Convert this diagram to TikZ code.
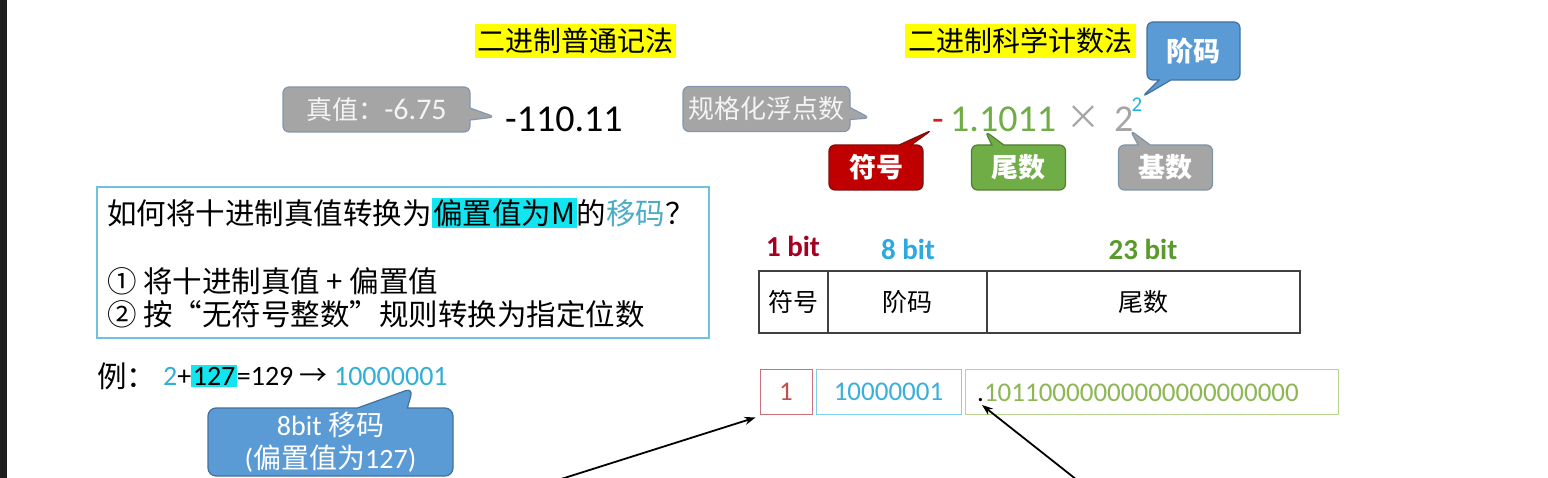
\documentclass[tikz,border=0pt]{standalone}
\usepackage{fontspec}
\setmainfont{Carlito}
\newfontfamily\cjk{Noto Sans CJK SC}
\usetikzlibrary{shapes.callouts,arrows.meta}

\newcommand{\fsz}[1]{\fontsize{#1}{#1}\selectfont}
\setlength{\fboxsep}{1.5pt}

\definecolor{sidebar}{HTML}{1E1E1E}
\definecolor{hlyellow}{HTML}{FFFF00}
\definecolor{hlcyan}{HTML}{12E4F0}
\definecolor{calgray}{HTML}{A5A5A5}
\definecolor{calline}{HTML}{8497B0}
\definecolor{calwhite}{HTML}{F4F4F4}
\definecolor{tagred}{HTML}{C00000}
\definecolor{tagredline}{HTML}{7F1010}
\definecolor{taggreen}{HTML}{70AD47}
\definecolor{taggreenline}{HTML}{507E32}
\definecolor{taggray}{HTML}{A5A5A5}
\definecolor{taggrayline}{HTML}{7F95AA}
\definecolor{tagblue}{HTML}{5B9BD5}
\definecolor{tagblueline}{HTML}{41719C}
\definecolor{signred}{HTML}{D02020}
\definecolor{mangreen}{HTML}{70AD47}
\definecolor{basegray}{HTML}{A5A5A5}
\definecolor{expcyan}{HTML}{1FB5E0}
\definecolor{qline}{HTML}{6EC3DC}
\definecolor{ymcyan}{HTML}{4BACC6}
\definecolor{excyan}{HTML}{31B0D5}
\definecolor{bitone}{HTML}{A50021}
\definecolor{biteight}{HTML}{2DA9E1}
\definecolor{bittwenty}{HTML}{5A9A2A}
\definecolor{tabline}{HTML}{404040}
\definecolor{bonel}{HTML}{CC707A}
\definecolor{bonet}{HTML}{C0504D}
\definecolor{btwol}{HTML}{80D0EA}
\definecolor{btwot}{HTML}{3AAFD9}
\definecolor{bthrl}{HTML}{B8D48F}
\definecolor{bthrt}{HTML}{8DB654}

\tikzset{
  hltitle/.style={fill=hlyellow, inner sep=0pt, minimum height=34pt, font=\cjk\fsz{28}},
  graycall/.style={rectangle callout, rounded corners=6pt, fill=calgray, draw=calline,
    line width=1.2pt, text=calwhite, font=\cjk\fsz{26}, minimum height=45pt,
    callout pointer width=12pt},
  tagbox/.style={rectangle callout, rounded corners=6pt, line width=1.2pt, text=white,
    font=\cjk\bfseries\fsz{27}, minimum width=94pt, minimum height=45pt,
    callout pointer width=12pt},
  bigtxt/.style={inner sep=0pt, font=\fsz{38}},
  linetxt/.style={anchor=west, inner sep=0pt, font=\cjk\fsz{29.5}},
  bitlbl/.style={font=\bfseries\fsz{29}},
  fieldbox/.style={draw=tabline, line width=1.5pt, minimum height=62pt, inner sep=0pt,
    font=\cjk\fsz{25}},
  binbox/.style={draw, line width=1pt, minimum height=44pt, inner sep=0pt, font=\fsz{27}},
  arr/.style={-{Stealth[length=11pt,width=8pt]}, line width=1.8pt},
}

\begin{document}
\begin{tikzpicture}[x=1pt,y=-1pt]
\useasboundingbox (0,0) rectangle (1548,478);
\fill[white] (0,0) rectangle (1548,478);
\fill[sidebar] (0,0) rectangle (7,478);

% titles
\node[hltitle, minimum width=201pt] (tnorm) at (575.5,41) {二进制普通记法};
\node[hltitle, minimum width=231pt] (tsci) at (1020.5,41) {二进制科学计数法};

% ordinary form
\node[graycall, minimum width=187pt, callout absolute pointer={(495,117)}] (truev) at (376.5,109.5) {真值：{\rmfamily\fsz{30}-6.75}};
\node[bigtxt, anchor=base west] (plain) at (505,132) {-110.11};

% scientific form
\node[graycall, minimum width=167pt, callout absolute pointer={(870,118)}] (normf) at (766.5,109) {规格化浮点数};
\node[bigtxt, anchor=base, text=signred] (sgn) at (938,132) {-};
\node[bigtxt, anchor=base west, text=mangreen] (frac) at (950,132) {1.1011};
\node[bigtxt, anchor=base, text=basegray, font=\cjk\fsz{34}] (times) at (1083,130) {×};
\node[bigtxt, anchor=base west, text=basegray] (base) at (1114,132) {2};
\node[inner sep=0pt, font=\fsz{21}, text=expcyan] (expo) at (1137,105) {2};

\node[tagbox, fill=tagblue, draw=tagblueline, minimum width=93pt, minimum height=58pt,
  callout absolute pointer={(1142,97)}] (jiema) at (1193.5,51) {阶码};
\node[tagbox, fill=tagred, draw=tagredline, callout absolute pointer={(932,130)}] (fuhao) at (876,167.5) {符号};
\node[tagbox, fill=taggreen, draw=taggreenline, callout absolute pointer={(985,131)}] (weishu) at (1018.5,167.5) {尾数};
\node[tagbox, fill=taggray, draw=taggrayline, callout absolute pointer={(1130,130)}] (jishu) at (1165.5,167.5) {基数};

% question box
\node[draw=qline, line width=1.5pt, minimum width=612pt, minimum height=151pt] (qbox) at (403,262.5) {};
\node[linetxt] (qone) at (107,213) {如何将十进制真值转换为\colorbox{hlcyan}{偏置值为M}的\textcolor{ymcyan}{移码}？};
\node[linetxt] (qtwo) at (107,281) {① 将十进制真值 + 偏置值};
\node[linetxt] (qthree) at (107,314) {② 按“无符号整数”规则转换为指定位数};

% example
\node[linetxt] (ex) at (97,376) {例：};
\node[anchor=west, inner sep=0pt, font=\fsz{28}] (exeq) at (163,376) {\textcolor{excyan}{2}+\colorbox{hlcyan}{127}=129 {\cjk →} \textcolor{excyan}{10000001}};
\node[rectangle callout, fill=tagblue, draw=tagblueline, rounded corners=8pt, line width=1.2pt,
  text=white, font=\fontsize{28}{33}\selectfont, align=center, minimum width=245pt, minimum height=68pt,
  callout absolute pointer={(413,388)}, callout pointer width=50pt] (ycall) at (330.5,442)
  {8bit {\cjk 移码}\\({\cjk 偏置值为}127)};

% format table
\node[bitlbl, text=bitone] (lone) at (793,246) {1 bit};
\node[bitlbl, text=biteight] (leight) at (908,249) {8 bit};
\node[bitlbl, text=bittwenty] (ltw) at (1143,249) {23 bit};
\node[fieldbox, minimum width=69pt] (fsgn) at (793.5,302) {符号};
\node[fieldbox, minimum width=159pt] (fexp) at (907.5,302) {阶码};
\node[fieldbox, minimum width=313pt] (fman) at (1143.5,302) {尾数};

% bits
\node[binbox, draw=bonel, text=bonet, minimum width=52pt] (bsgn) at (786,392) {1};
\node[binbox, draw=btwol, text=btwot, minimum width=145pt] (bexp) at (888.5,392) {10000001};
\node[binbox, draw=bthrl, minimum width=373pt] (bman) at (1151.5,392) {};
\node[anchor=west, inner sep=0pt, font=\fsz{27}, text=bthrt] (mbits) at (977,393) {\textcolor{black}{.}10110000000000000000000};

\coordinate (sone) at (558,480);
\coordinate (stwo) at (1077,480);
\draw[arr] (sone) -- ([shift={(-4,3)}]bsgn.south west);
\draw[arr] (stwo) -- ([shift={(5,12)}]mbits.west);
\end{tikzpicture}
\end{document}
